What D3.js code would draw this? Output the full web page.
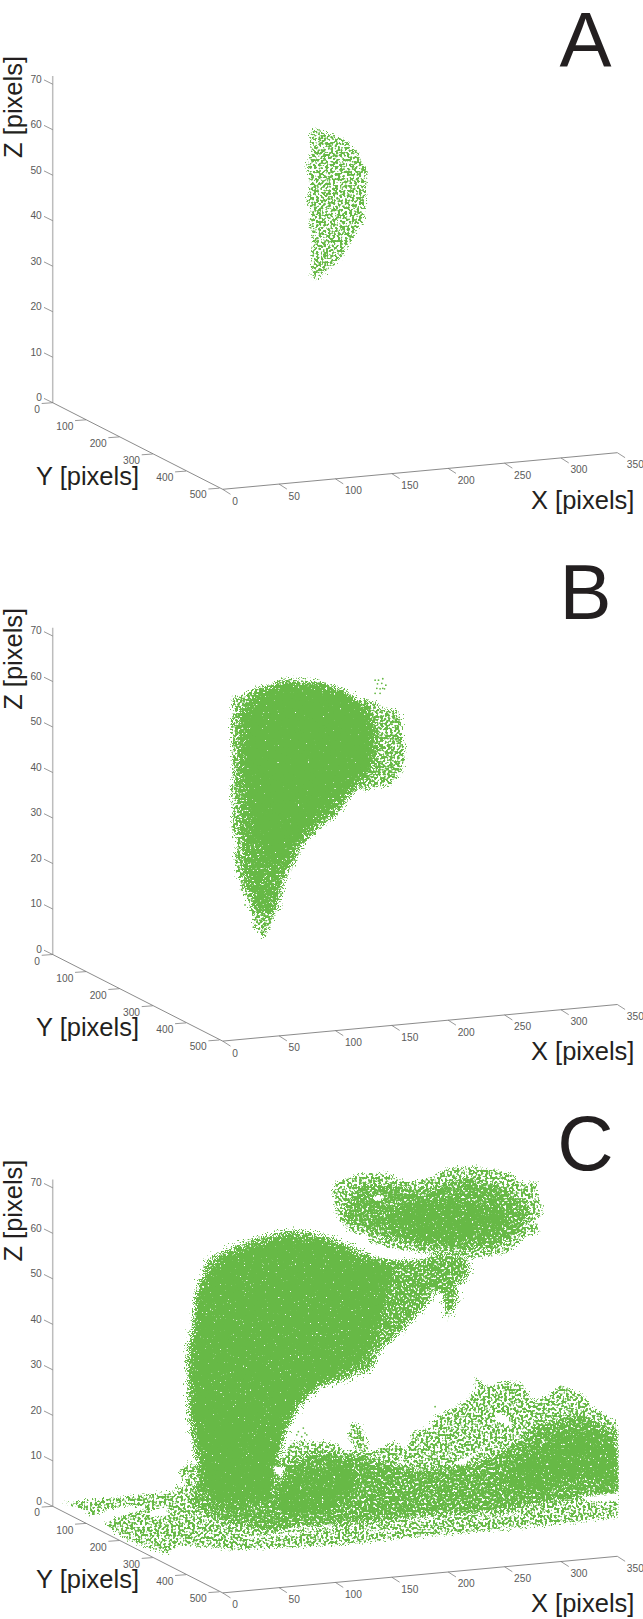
<!DOCTYPE html>
<html><head><meta charset="utf-8">
<script src="https://cdnjs.cloudflare.com/ajax/libs/d3/7.8.5/d3.min.js"></script>
<style>html,body{margin:0;padding:0;background:#fff}svg{display:block}text{font-family:"Liberation Sans",Arial,sans-serif}</style>
</head><body><div id="c"></div>
<script>
const xTicks=[0,50,100,150,200,250,300,350];
const yTicks=[0,100,200,300,400,500];
const zTicks=[0,10,20,30,40,50,60,70];
const panelLetters=["A","B","C"];
const xTitle="X [pixels]",yTitle="Y [pixels]",zTitle="Z [pixels]";
// cloud footprints: [X on the front axis, Z]
const aCloud=[[79,59.9],[86.4,60.1],[97.9,58.8],[108.6,57.7],[120.1,55.2],[123.4,52.7],[127.8,51.4],[127.2,47.5],[126.3,43.1],[124.5,40.2],[120.1,38],[113,35.1],[105.6,32.1],[95.2,29.6],[84.6,27],[79,27.7],[78.1,31.4],[80.2,35.1],[76.6,39.5],[79,42.4],[74.6,43.9],[77.5,48.3],[74.6,52.7],[79,55.5],[77.5,58.5]];
const bOuter=[[8,56.3],[18.3,57],[31.6,58.9],[42,59.2],[55.3,60.5],[68.6,60],[83.4,60],[98.2,59.2],[110,57.8],[118.9,55.9],[127.8,55.8],[136.7,55.4],[142.6,53.7],[154.4,53.4],[158.9,51.9],[158.9,48.6],[161.8,43.9],[157.4,39.8],[148.5,37.3],[136.7,36.9],[127.8,36.3],[117.5,36.2],[111.5,34],[104.1,31.4],[95.3,29.6],[83.4,27],[73.1,24.8],[65.7,21.5],[58.3,18.2],[52.4,16],[51.8,13.4],[47.3,10.5],[43.5,6.9],[36.1,3.8],[27.2,6.5],[24.2,11.2],[16.8,14.9],[10.9,20],[12.4,24.4],[8,28.1],[9.4,31.8],[6.5,35.4],[9.4,39.1],[8,44.2],[7.1,50.1],[9.4,53.7]];
const bMiddle=[[15.4,53.7],[31.6,58.1],[55.3,60],[83.4,59.6],[110,57.4],[127.8,54.5],[135.2,50.8],[136.7,45.7],[132.2,40.6],[118.9,36.9],[110,34.7],[98.2,31],[80.5,27.4],[68.6,24.4],[59.7,19.3],[50.9,15.6],[49.4,10.5],[39,8.3],[28.7,9.8],[18.3,17.1],[16.8,24.4],[15.4,31.8],[13.9,39.1],[13.9,46.4]];
const bCore=[[24.2,53.7],[39,57.4],[56.8,58.9],[80.5,58.9],[104.1,57.4],[121.9,54.5],[132.2,50.1],[132.2,45.7],[127.8,40.6],[113,38.4],[104.1,36.2],[92.3,32.5],[74.5,28.1],[59.7,23.7],[50.9,20],[39,20],[28.7,25.9],[24.2,31.8],[19.8,37.6],[21.3,45.7],[18.3,50.8]];
const bStray=[[135.2,60.3],[138.2,60.3],[142,60.6],[137.3,59.5],[141.1,59.6],[144.7,59.2],[136.7,58.5],[139.6,58.4],[143.5,58.4],[135.2,57.4],[139.6,57.4],[142,58.5],[19.8,10.9],[27.2,6],[36.1,5],[16.8,14.3]];
const cLobeOuter=[[96.7,68.8],[100.3,71.4],[113,72.1],[123.4,73.2],[142.5,73.3],[157.4,71.9],[169.2,71.4],[186.9,72.5],[198.8,74.3],[219.5,74.8],[243.2,73.9],[257.9,72.8],[263.9,71],[278.7,71.2],[280.1,68.1],[284,64.6],[277.2,62.6],[281.6,60.4],[266.8,59.1],[252.1,55.5],[234.3,55],[221,54.5],[189.9,55.6],[172.2,56],[148.5,56.7],[130.7,58.2],[127.8,59.7],[113,60.4],[102.6,63.3],[99.7,66.2]];
const cLobeMiddle=[[108.6,66.2],[121.9,70.6],[148.5,70.6],[175.1,69.5],[219.5,72.2],[255,69.5],[272.8,65.1],[263.9,60.3],[237.3,56.4],[175.1,56.8],[130.7,60.3],[108.6,63]];
const cLobeCore=[[148.5,65.1],[166.2,66.6],[195.8,67.3],[219.5,66.6],[249.1,65.1],[255,63],[234.3,59.3],[204.7,57.8],[175.1,58.6],[154.4,60],[142.5,63]];
const cLiverOuter=[[-32,32.6],[-26.1,40.2],[-23.1,46.8],[-18.6,50.5],[-12.8,54.2],[5,56.5],[30.2,58.9],[56.8,60.5],[80.4,60],[101.2,58.6],[118.9,56.4],[133.7,55],[148.5,54.5],[172.2,54.2],[186.9,55.6],[213.6,54.9],[219.5,53.4],[216.6,50.1],[207.7,48.3],[209.1,45.4],[198.8,41.3],[194.4,46.8],[186.9,47.2],[181.1,44.3],[166.2,40.6],[150,36.6],[139.6,34.4],[130.7,30],[107,27.8],[86.4,26.3],[71.5,23.4],[55.3,17.5],[53.8,16.8],[49.4,10.2],[55.3,6.5],[-21.7,3.6],[-21.7,8.7],[-27.5,16.1],[-30.5,22.7],[-30.5,30]];
const cLiverCore=[[-28,30],[-23,45.4],[-9,53.5],[33.1,58],[59.7,59.6],[95.2,57.8],[126.3,54],[152.9,53],[144.1,44],[130.7,34],[108.6,29.5],[86.4,27],[66,22.3],[52,14.6],[45,8],[42,1.4],[-8,0.3],[-19,8],[-27,19]];
const cGroundOuter=[[-140,.8],[-117.8,1.4],[-82.3,2.1],[-43.8,3.2],[-40.8,4.3],[-32,4.3],[-39.4,7.6],[-30.5,9.5],[-20.1,8.7],[49.1,10.2],[55.3,12],[62.7,14.2],[86.4,14.2],[101.2,13.5],[107,12.4],[118.9,12.4],[111.5,15],[113.6,18.3],[120.4,18.3],[127.2,15.3],[129.2,12.4],[133.7,11.7],[139.6,13.1],[151.4,14.2],[163.3,12.4],[167.8,16.1],[184,17.2],[188.4,19.7],[198.8,20.8],[213.6,22.7],[223.9,25.2],[224.6,28.2],[234.3,26.3],[252.1,27.4],[263.9,27.1],[275.7,23],[287.6,24.1],[299.4,26.7],[323.1,23.8],[326,21.9],[334.9,20.8],[349.7,18.3],[351.1,12],[351.1,-2.3],[332,-3],[272.8,-4.5],[213.6,-5.9],[154.4,-7],[104.1,-8.5],[9.4,-9.5],[-8.3,-9.2],[-39.4,-8.5],[-48.3,-10.3],[-61.6,-9.5],[-85.2,-7.3],[-104.5,-3.9],[-91.2,-2.1],[-69,-.8],[-82.3,.3],[-104.5,-.8],[-117.8,-2.3],[-122.2,-.8]];
const cGroundMiddle=[[-20.1,5.8],[55.3,5.8],[95.2,10.2],[117.4,11.3],[175.1,8],[219.5,9.1],[251.5,12.4],[281.6,17.9],[317.1,20.1],[349.1,16.4],[350.9,2.5],[299.4,1.4],[246.1,-.8],[175.1,-1.9],[104.1,-4.1],[42,-5.2],[-6.8,-3],[-29,1.4]];
const cBall=[[55.3,9.1],[77.5,11.3],[99.7,11.7],[114.8,9.1],[117.4,3.6],[99.7,.3],[68.6,-1.9],[46.4,-.8]];
const cRightMass=[[252.1,8],[272.8,11.7],[302.3,16.1],[332,17.5],[349.7,12.4],[349.7,4.3],[317.1,6.5],[296.5,4.3],[272.8,2.9],[252.1,4.3]];
const cGaps=[
 [[128,57.5],[150,56.5],[176,55.6],[190,55],[176,54.4],[150,54.3],[132,55]],
 [[133.4,68],[137.8,68.6],[143.2,68],[139.6,67.1],[135.2,67.3]],
 [[201.7,9.5],[219.5,11],[240.2,15],[228.6,12.1],[213.6,9.1]],
 [[240.2,20.5],[252.1,19.7],[257.9,17.2],[243.2,18.6]],
 [[157.4,10.2],[164.5,9.5],[152.9,9.1]],
 [[-64.5,-.8],[-48.3,-.1],[-49.7,-2.3],[-64.5,-2.3]],
 [[44.9,8.7],[55.3,8.7],[52.4,6.2],[46.4,7.3]],
 [[317.1,2.1],[351.1,2.9],[351.1,1],[323.1,1]],
 [[20.7,-6.7],[68.6,-5.6],[68.6,-6.1],[24.2,-7.2]],
 [[56.8,-4.8],[97.9,-4.1],[97.9,-4.5],[56.8,-5.2]],
 [[128.1,-5.2],[154.7,-5.2],[154.7,-5.6],[128.1,-5.6]],
 [[163.6,-3],[190.2,-2.3],[190.2,-2.7],[163.6,-3.4]],
 [[225.7,-2.3],[261.2,-1.4],[261.2,-1.8],[225.7,-2.7]]];
const cStray=[[67.1,16.4],[71.5,17.2],[73,16.1],[65.7,15.7],[74.6,15.7],[70.1,15.3],[188.4,21.9]];

const GREEN="#67b946",W=643,H=1619,STEP=551.8;
const sX=d3.scaleLinear().domain([0,350]).range([222.7,617.3]);
const sXy=d3.scaleLinear().domain([0,350]).range([489.3,452.7]);
const sYx=d3.scaleLinear().domain([0,500]).range([52.7,219.4]);
const sYy=d3.scaleLinear().domain([0,500]).range([402.7,488.2]);
const sZ=d3.scaleLinear().domain([0,70]).range([402.7,84.2]);
const outline=d3.line().x(d=>sX(d[0])).y(d=>sZ(d[1])).curve(d3.curveLinearClosed);

const svg=d3.select("#c").append("svg").attr("width",W).attr("height",H).attr("viewBox",[0,0,W,H]);
const defs=svg.append("defs");
function texture(id,thresh,disp,freq,seed){
  const f=defs.append("filter").attr("id",id).attr("filterUnits","userSpaceOnUse")
    .attr("x",0).attr("y",0).attr("width",W).attr("height",H).attr("color-interpolation-filters","sRGB");
  f.append("feTurbulence").attr("type","fractalNoise").attr("baseFrequency",.9).attr("numOctaves",1).attr("seed",seed).attr("result","shift");
  f.append("feDisplacementMap").attr("in","SourceGraphic").attr("in2","shift").attr("scale",disp).attr("xChannelSelector","R").attr("yChannelSelector","G").attr("result","rough");
  f.append("feTurbulence").attr("type","fractalNoise").attr("baseFrequency",freq).attr("numOctaves",1).attr("seed",seed+7).attr("result","grain");
  f.append("feColorMatrix").attr("in","grain").attr("type","matrix").attr("values",`0 0 0 0 0 0 0 0 0 0 0 0 0 0 0 0 0 0 12 ${-12*thresh}`).attr("result","mask");
  f.append("feComposite").attr("in","rough").attr("in2","mask").attr("operator","in").attr("result","cut");
  f.append("feGaussianBlur").attr("in","cut").attr("stdDeviation",.3);
}
texture("sparse",.46,12,.42,2);
texture("loose",.43,16,.42,3);
texture("middle",.39,20,.45,5);
texture("thick",.35,24,.5,9);
texture("solid",.27,28,.6,13);
const rough=defs.append("filter").attr("id","gap").attr("filterUnits","userSpaceOnUse").attr("x",0).attr("y",0).attr("width",W).attr("height",H);
rough.append("feTurbulence").attr("type","fractalNoise").attr("baseFrequency",.7).attr("numOctaves",1).attr("seed",4).attr("result","n");
rough.append("feDisplacementMap").attr("in","SourceGraphic").attr("in2","n").attr("scale",7).attr("xChannelSelector","R").attr("yChannelSelector","G");
defs.append("clipPath").attr("id","edge").append("rect").attr("x",0).attr("y",0).attr("width",sX(350)+1.5).attr("height",H);

const panels=[
 {layers:[[aCloud,"sparse"]],stray:[],gaps:[]},
 {layers:[[bOuter,"loose"],[bMiddle,"thick"],[bCore,"solid"]],stray:bStray,gaps:[]},
 {layers:[[cGroundOuter,"sparse"],[cGroundMiddle,"middle"],[cBall,"thick"],[cRightMass,"thick"],
          [cLobeOuter,"sparse"],[cLobeMiddle,"middle"],[cLobeCore,"thick"],[cLiverOuter,"thick"],[cLiverCore,"solid"]],stray:cStray,gaps:cGaps}
];
panels.forEach((p,i)=>{
  const g=svg.append("g").attr("transform",`translate(0,${i*STEP})`);
  g.append("line").attr("x1",sYx(0)).attr("x2",sYx(0)).attr("y1",sZ(0)).attr("y2",76).attr("stroke","#bdbdbd").attr("stroke-width",1.5);
  g.append("line").attr("x1",sYx(0)).attr("y1",sYy(0)).attr("x2",sX(0)).attr("y2",sXy(0)).attr("stroke","#6d6d6d").attr("stroke-width",.8);
  g.append("line").attr("x1",sX(0)).attr("y1",sXy(0)).attr("x2",sX(350)).attr("y2",sXy(350)).attr("stroke","#6d6d6d").attr("stroke-width",.8);
  g.selectAll(".zt").data(zTicks).join("line").attr("x1",sYx(0)).attr("y1",d=>sZ(d)).attr("x2",sYx(0)-8.7).attr("y2",d=>sZ(d)-4.3).attr("stroke","#6d6d6d").attr("stroke-width",.7);
  g.selectAll(".yt").data(yTicks).join("line").attr("x1",d=>sYx(d)).attr("y1",d=>sYy(d)).attr("x2",d=>sYx(d)-11).attr("y2",d=>sYy(d)+.8).attr("stroke","#6d6d6d").attr("stroke-width",.7);
  g.selectAll(".xt").data(xTicks).join("line").attr("x1",d=>sX(d)).attr("y1",d=>sXy(d)).attr("x2",d=>sX(d)+7.8).attr("y2",d=>sXy(d)+5).attr("stroke","#6d6d6d").attr("stroke-width",.7);
  const tick=(sel)=>sel.attr("font-size",10.2).attr("fill","#5a5a5a").attr("dominant-baseline","central");
  g.selectAll(".zl").data(zTicks).join("text").attr("x",41.8).attr("y",d=>sZ(d)-5).attr("text-anchor","end").text(d=>d).call(tick);
  g.selectAll(".yl").data(yTicks).join("text").attr("x",d=>sYx(d)-12.7).attr("y",d=>sYy(d)+6.7).attr("text-anchor","end").text(d=>d).call(tick);
  g.selectAll(".xl").data(xTicks).join("text").attr("x",d=>sX(d)+9.5).attr("y",d=>sXy(d)+12).attr("text-anchor","start").text(d=>d).call(tick);
  const title=(sel)=>sel.attr("font-size",25.5).attr("fill","#231f20");
  g.append("text").attr("x",36).attr("y",484.5).text(yTitle).call(title);
  g.append("text").attr("x",531).attr("y",508.5).text(xTitle).call(title);
  g.append("text").attr("transform","translate(22,107) rotate(-90)").attr("text-anchor","middle").text(zTitle).call(title);
  g.append("text").attr("x",585.5).attr("y",66.7).attr("text-anchor","middle").attr("font-size",78).attr("fill","#231f20").text(panelLetters[i]);
  const cloud=g.append("g").attr("clip-path","url(#edge)");
  p.layers.forEach(([pts,tex])=>{
    cloud.append("path").attr("d",outline(pts)).attr("fill",GREEN).attr("filter",`url(#${tex})`);
  });
  p.gaps.forEach(pts=>cloud.append("path").attr("d",outline(pts)).attr("fill","#fff").attr("filter","url(#gap)"));
  cloud.selectAll("circle").data(p.stray).join("circle").attr("cx",d=>sX(d[0])).attr("cy",d=>sZ(d[1])).attr("r",.9).attr("fill",GREEN);
});
</script></body></html>
